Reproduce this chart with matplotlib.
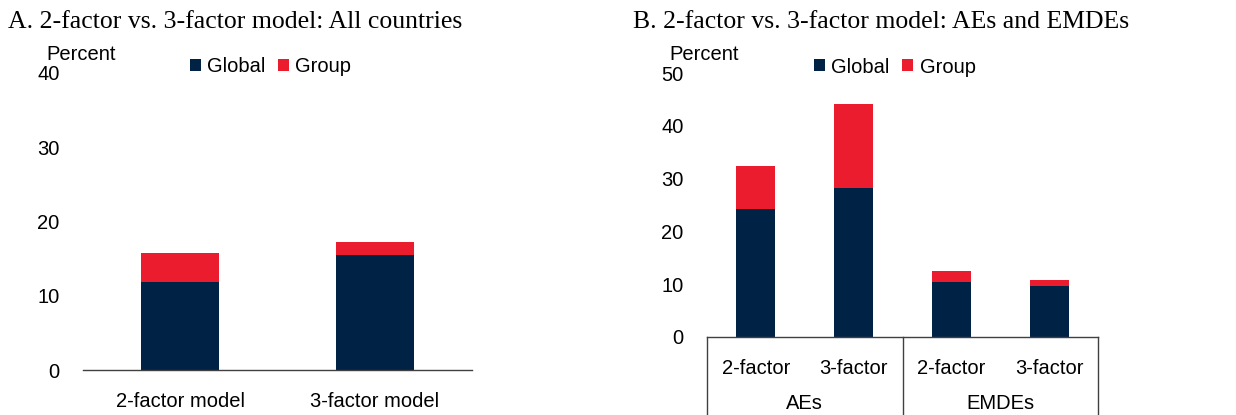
import matplotlib
matplotlib.use("Agg")
import matplotlib.pyplot as plt
import matplotlib.transforms as mtransforms
import numpy as np

# ---- data ----
a_categories = ["2-factor model", "3-factor model"]
a_global = [11.8, 15.45]
a_group = [4.0, 1.8]

b_categories = ["2-factor", "3-factor", "2-factor", "3-factor"]
b_groups = ["AEs", "EMDEs"]
b_group_sizes = [2, 2]
b_global = [24.3, 28.3, 10.4, 9.7]
b_group = [8.1, 15.8, 2.1, 1.1]

series_names = ["Global", "Group"]
NAVY = "#002345"
RED = "#EB1C2D"

W, H = 1236, 415
fig = plt.figure(figsize=(W / 100, H / 100), dpi=100)
SANS = "Liberation Sans"
SERIF = "Liberation Serif"
TICK_FS = 14.5
TITLE_FS = 18.5


def px_axes(x0, x1, ytop, ybot):
    return fig.add_axes([x0 / W, 1 - ybot / H, (x1 - x0) / W, (ybot - ytop) / H])


def style(ax, ymax, step):
    ax.set_ylim(0, ymax)
    ax.set_yticks(np.arange(0, ymax + 1, step))
    for s in ["top", "right", "left"]:
        ax.spines[s].set_visible(False)
    ax.spines["bottom"].set_color("#404040")
    ax.spines["bottom"].set_linewidth(1.0)
    ax.tick_params(axis="both", length=0, labelsize=TICK_FS)
    ax.tick_params(axis="y", pad=17)
    for lab in ax.get_yticklabels() + ax.get_xticklabels():
        lab.set_fontfamily(SANS)


def legend(ax, xc, yc):
    ax.legend(loc="center", bbox_to_anchor=(xc, yc), ncol=2, frameon=False,
              prop={"family": SANS, "size": TICK_FS}, handlelength=0.55, handleheight=0.55,
              handletextpad=0.3, columnspacing=0.65, borderaxespad=0, borderpad=0)


# ---- Panel A ----
axA = px_axes(83, 472, 73, 370)
xa = np.arange(len(a_categories))
axA.bar(xa, a_global, width=0.4, color=NAVY, label=series_names[0])
axA.bar(xa, a_group, width=0.4, bottom=a_global, color=RED, label=series_names[1])
axA.set_xlim(-0.5, len(a_categories) - 0.5)
axA.set_xticks(xa)
axA.set_xticklabels(a_categories)
style(axA, 40, 10)
axA.tick_params(axis="x", pad=16)
for lab in axA.get_xticklabels():
    lab.set_fontfamily(SANS)
legend(axA, 0.482, 1 + 6 / 297)
fig.text(46 / W, 1 - 60 / H, "Percent", fontsize=TICK_FS, family=SANS, va="baseline", ha="left")
fig.text(8 / W, 1 - 28 / H, "A. 2-factor vs. 3-factor model: All countries",
         fontsize=TITLE_FS, family=SERIF, va="baseline", ha="left")

# ---- Panel B ----
axB = px_axes(707, 1098, 73, 337)
xb = np.arange(len(b_categories))
axB.bar(xb, b_global, width=0.4, color=NAVY, label=series_names[0])
axB.bar(xb, b_group, width=0.4, bottom=b_global, color=RED, label=series_names[1])
axB.set_xlim(-0.5, len(b_categories) - 0.5)
axB.set_xticks(xb)
axB.set_xticklabels(b_categories)
style(axB, 50, 10)
axB.tick_params(axis="x", pad=16)
for lab in axB.get_xticklabels():
    lab.set_fontfamily(SANS)
legend(axB, 0.48, 1 + 6 / 264)

trans = mtransforms.blended_transform_factory(axB.transData, axB.transAxes)
bounds = np.concatenate([[0], np.cumsum(b_group_sizes)]) - 0.5
for b in bounds:
    axB.plot([b, b], [0, -0.35], transform=trans, color="#404040", lw=1.0, clip_on=False)
for i, g in enumerate(b_groups):
    c = (bounds[i] + bounds[i + 1]) / 2
    axB.text(c, -0.252, g, transform=trans, ha="center", va="center",
             fontsize=TICK_FS, family=SANS)

fig.text(669 / W, 1 - 60 / H, "Percent", fontsize=TICK_FS, family=SANS, va="baseline", ha="left")
fig.text(633 / W, 1 - 28 / H, "B. 2-factor vs. 3-factor model: AEs and EMDEs",
         fontsize=TITLE_FS, family=SERIF, va="baseline", ha="left")

fig.savefig("out.png", dpi=100)
